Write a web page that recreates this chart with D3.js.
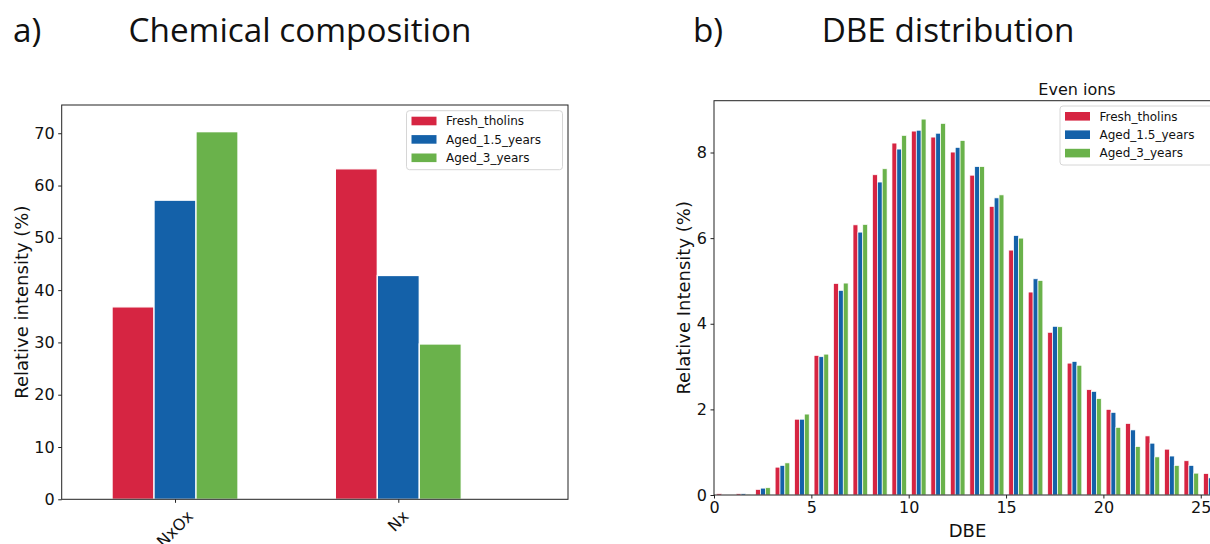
<!DOCTYPE html>
<html>
<head>
<meta charset="utf-8">
<script src="https://cdn.jsdelivr.net/npm/d3@7"></script>
<style>
html,body{margin:0;padding:0;background:#fff;}
svg{display:block;}
</style>
</head>
<body>
<svg id="chart" width="1210" height="544"></svg>
<script>
// ---------- data ----------
const seriesNames = ["Fresh_tholins", "Aged_1.5_years", "Aged_3_years"];
const seriesColors = ["#d62542", "#1461a9", "#6ab24b"];

const compCategories = ["NxOx", "Nx"];
const compFresh = [36.8, 63.2];
const compAged15 = [57.2, 42.8];
const compAged3 = [70.3, 29.7];
const compTicks = [0, 10, 20, 30, 40, 50, 60, 70];

const dbeValues = [0,1,2,3,4,5,6,7,8,9,10,11,12,13,14,15,16,17,18,19,20,21,22,23,24,25];
const dbeFresh  = [0.03,0.03,0.13,0.65,1.77,3.26,4.94,6.31,7.48,8.22,8.50,8.36,8.01,7.47,6.74,5.72,4.74,3.80,3.08,2.46,2.00,1.67,1.38,1.07,0.80,0.50];
const dbeAged15 = [0.00,0.03,0.16,0.69,1.77,3.23,4.78,6.14,7.31,8.08,8.52,8.45,8.12,7.67,6.94,6.06,5.05,3.94,3.12,2.42,1.93,1.52,1.21,0.91,0.69,0.40];
const dbeAged3  = [0.00,0.02,0.17,0.75,1.89,3.29,4.95,6.32,7.62,8.40,8.78,8.68,8.28,7.67,7.01,6.00,5.01,3.93,3.03,2.25,1.58,1.13,0.89,0.69,0.51,null];
const dbeXTicks = [0, 5, 10, 15, 20, 25];
const dbeYTicks = [0, 2, 4, 6, 8];

// ---------- setup ----------
const svg = d3.select("#chart");
const AX_FONT = "DejaVu Sans, sans-serif";
const TITLE_FONT = "Open Sans, Noto Sans, sans-serif";

// ---------- big titles ----------
function bigTitle(txt, x, anchor, size) {
  return svg.append("text").attr("x", x).attr("y", 42)
    .attr("text-anchor", anchor)
    .style("font-family", TITLE_FONT).style("font-size", size + "px")
    .attr("fill", "#111").text(txt);
}
let probe = bigTitle("Chemical composition", 0, "start", 34);
const w34 = probe.node().getComputedTextLength();
probe.remove();
const tSize = 34 * 343 / w34;
bigTitle("a)", 13, "start", tSize);
bigTitle("Chemical composition", 300, "middle", tSize);
bigTitle("b)", 693, "start", tSize);
bigTitle("DBE distribution", 948, "middle", tSize);

// ---------- helpers ----------
function frame(g, x0, x1, y0, y1) {
  g.append("rect").attr("x", x0).attr("y", y0)
    .attr("width", x1 - x0).attr("height", y1 - y0)
    .attr("fill", "none").attr("stroke", "#222").attr("stroke-width", 1);
}
function legend(g, bx, by) {
  const lg = g.append("g").attr("transform", `translate(${bx},${by})`);
  lg.append("rect").attr("x", 0).attr("y", 0).attr("width", 156).attr("height", 59)
    .attr("rx", 3).attr("fill", "rgba(255,255,255,0.85)")
    .attr("stroke", "#d6d6d6").attr("stroke-width", 1);
  seriesNames.forEach((n, i) => {
    const cy = 10.3 + i * 18.4;
    lg.append("rect").attr("x", 5).attr("y", cy - 4.3).attr("width", 25).attr("height", 8.6)
      .attr("fill", seriesColors[i]);
    lg.append("text").attr("x", 39.5).attr("y", cy).attr("dy", "0.36em")
      .style("font-family", AX_FONT).style("font-size", "12px").attr("fill", "#111").text(n);
  });
}

// ---------- chart a ----------
{
  const L = 61.7, R = 568, T = 105, B = 499.3;
  const g = svg.append("g");
  const x = d3.scaleLinear().domain([-0.5075, 1.76]).range([L, R]);
  const y = d3.scaleLinear().domain([0, 75.4]).range([B, T]);
  const bw = 0.188;
  const series = [compFresh, compAged15, compAged3];
  series.forEach((vals, si) => {
    g.selectAll(null).data(vals).enter().append("rect")
      .attr("x", (d, i) => x(i + (si - 1) * bw - bw / 2))
      .attr("width", x(bw) - x(0))
      .attr("y", d => y(d))
      .attr("height", d => y(0) - y(d))
      .attr("fill", seriesColors[si])
      .attr("stroke", "#fff").attr("stroke-width", 1.3);
  });
  // y axis
  const ya = g.append("g").attr("transform", `translate(${L},0)`)
    .call(d3.axisLeft(y).tickValues(compTicks).tickSize(3.5).tickPadding(3.5).tickFormat(d3.format("d")));
  ya.select(".domain").remove();
  ya.selectAll("text").style("font-family", AX_FONT).style("font-size", "16px").attr("fill", "#111");
  ya.selectAll("line").attr("stroke", "#222");
  // x axis
  const xa = g.append("g").attr("transform", `translate(0,${B})`)
    .call(d3.axisBottom(x).tickValues([0, 1]).tickSize(3.5).tickFormat(() => ""));
  xa.select(".domain").remove();
  xa.selectAll("line").attr("stroke", "#222");
  compCategories.forEach((c, i) => {
    const t = g.append("text").style("font-family", AX_FONT).style("font-size", "16px")
      .attr("fill", "#111").attr("text-anchor", "middle").attr("dominant-baseline", "central").text(c);
    const w = t.node().getComputedTextLength();
    const hb = (w + 16) * Math.SQRT1_2;
    const cx = x(i), cy = B + 8.5 + hb / 2;
    t.attr("x", cx).attr("y", cy).attr("transform", `rotate(-45,${cx},${cy})`);
  });
  frame(g, L, R, T, B);
  g.append("text").attr("transform", `translate(21,${(T + B) / 2}) rotate(-90)`)
    .attr("text-anchor", "middle").attr("dominant-baseline", "central")
    .style("font-family", AX_FONT).style("font-size", "18px").attr("fill", "#111")
    .text("Relative intensity (%)");
  legend(g, 406.5, 110.7);
}

// ---------- chart b ----------
{
  const L = 714, R = 1221, T = 100.7, B = 495;
  const g = svg.append("g");
  svg.append("defs").append("clipPath").attr("id", "clipB")
    .append("rect").attr("x", L).attr("y", T).attr("width", R - L).attr("height", B - T);
  const x = d3.scaleLinear().domain([0, 26.04]).range([L, R]);
  const y = d3.scaleLinear().domain([0, 9.21]).range([B, T]);
  const bw = 0.25;
  const series = [dbeFresh, dbeAged15, dbeAged3];
  const bars = g.append("g").attr("clip-path", "url(#clipB)");
  series.forEach((vals, si) => {
    const data = dbeValues.map((k, i) => ({ k, v: vals[i] })).filter(d => d.v !== null);
    bars.selectAll(null).data(data).enter().append("rect")
      .attr("x", d => x(d.k + 0.14 + si * bw))
      .attr("width", x(bw) - x(0))
      .attr("y", d => y(d.v))
      .attr("height", d => y(0) - y(d.v))
      .attr("fill", seriesColors[si])
      .attr("stroke", "#fff").attr("stroke-width", 0.7);
  });
  const ya = g.append("g").attr("transform", `translate(${L},0)`)
    .call(d3.axisLeft(y).tickValues(dbeYTicks).tickSize(3.5).tickPadding(3.5).tickFormat(d3.format("d")));
  ya.select(".domain").remove();
  ya.selectAll("text").style("font-family", AX_FONT).style("font-size", "16px").attr("fill", "#111");
  ya.selectAll("line").attr("stroke", "#222");
  const xa = g.append("g").attr("transform", `translate(0,${B})`)
    .call(d3.axisBottom(x).tickValues(dbeXTicks).tickSize(3.5).tickPadding(3.5).tickFormat(d3.format("d")));
  xa.select(".domain").remove();
  xa.selectAll("text").style("font-family", AX_FONT).style("font-size", "16px").attr("fill", "#111");
  xa.selectAll("line").attr("stroke", "#222");
  frame(g, L, R, T, B);
  g.append("text").attr("transform", `translate(683,${(T + B) / 2}) rotate(-90)`)
    .attr("text-anchor", "middle").attr("dominant-baseline", "central")
    .style("font-family", AX_FONT).style("font-size", "18px").attr("fill", "#111")
    .text("Relative Intensity (%)");
  g.append("text").attr("x", (L + R) / 2).attr("y", 536.5).attr("text-anchor", "middle")
    .style("font-family", AX_FONT).style("font-size", "18px").attr("fill", "#111").text("DBE");
  g.append("text").attr("x", 1077).attr("y", 95).attr("text-anchor", "middle")
    .style("font-family", AX_FONT).style("font-size", "16px").attr("fill", "#111").text("Even ions");
  legend(g, 1060, 106);
}
</script>
</body>
</html>
